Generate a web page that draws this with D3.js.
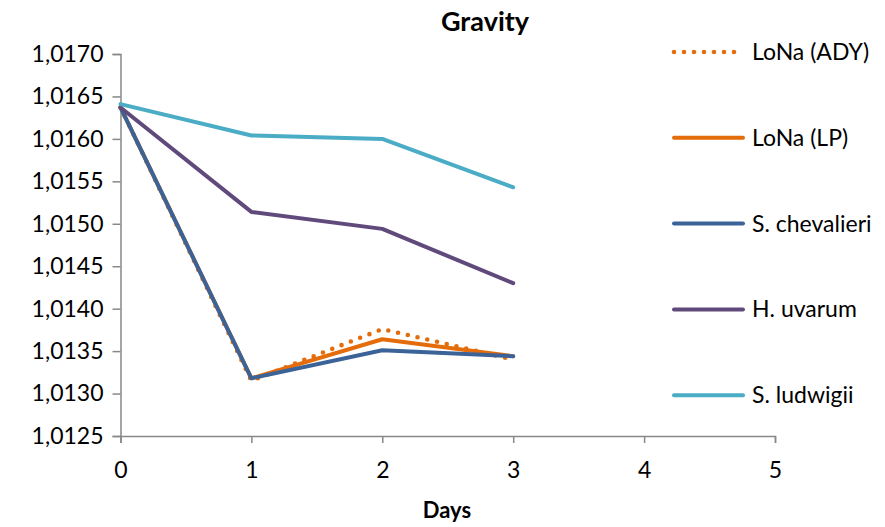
<!DOCTYPE html>
<html>
<head>
<meta charset="utf-8">
<script src="https://cdn.jsdelivr.net/npm/d3@7"></script>
<style>
  body { margin: 0; background: #fff; }
  text { font-family: Lato, "Open Sans", sans-serif; fill: #000; }
</style>
</head>
<body>
<svg id="chart"></svg>
<script>
var days = [0, 1, 2, 3];
var seriesNames = ["LoNa (ADY)", "LoNa (LP)", "S. chevalieri", "H. uvarum", "S. ludwigii"];
var lonaADY = [1.01637, 1.01315, 1.01376, 1.01340];
var lonaLP = [1.01637, 1.01318, 1.01364, 1.01344];
var chevalieri = [1.01637, 1.01318, 1.01351, 1.01344];
var uvarum = [1.01637, 1.01514, 1.01494, 1.01430];
var ludwigii = [1.01641, 1.01604, 1.01600, 1.01543];
var xTicks = [0, 1, 2, 3, 4, 5];
var yTicks = [1.0125, 1.0130, 1.0135, 1.0140, 1.0145, 1.0150, 1.0155, 1.0160, 1.0165, 1.0170];

var colors = ["#E46C0A", "#E46C0A", "#3B6397", "#604A7B", "#4BACC6"];
var dashes = ["0 10", null, null, null, null];
var widths = [4.6, 4, 4, 4, 4];
var allValues = [lonaADY, lonaLP, chevalieri, uvarum, ludwigii];

var W = 885, H = 527;
var margin = {top: 54, right: 110, bottom: 91, left: 120.5},
    width = W - margin.left - margin.right,
    height = H - margin.top - margin.bottom;

var svg = d3.select("#chart").attr("width", W).attr("height", H);
var g = svg.append("g").attr("transform", "translate(" + margin.left + "," + margin.top + ")");

var x = d3.scaleLinear().domain([0, 5]).range([0, width]);
var y = d3.scaleLinear().domain([1.0125, 1.0170]).range([height, 0]);
var fmt = function (d) { return d3.format(".4f")(d).replace(".", ","); };

// y axis
var yAxis = g.append("g")
    .call(d3.axisLeft(y).tickValues(yTicks).tickFormat(fmt).tickSize(8).tickPadding(9));
yAxis.select(".domain").attr("stroke", "#888").attr("stroke-width", 1.5);
yAxis.selectAll(".tick line").attr("stroke", "#888").attr("stroke-width", 1.5);
yAxis.selectAll("text").style("font-size", "23px").attr("fill", "#000");

// x axis
var xAxis = g.append("g")
    .attr("transform", "translate(0," + height + ")")
    .call(d3.axisBottom(x).tickValues(xTicks).tickFormat(d3.format("d")).tickSize(7).tickPadding(19));
xAxis.select(".domain").attr("stroke", "#888").attr("stroke-width", 1.5);
xAxis.selectAll(".tick line").attr("stroke", "#888").attr("stroke-width", 1.5);
xAxis.selectAll("text").style("font-size", "23px").attr("fill", "#000");

// lines
var line = d3.line()
    .x(function (d, i) { return x(days[i]); })
    .y(function (d) { return y(d); });

allValues.forEach(function (vals, i) {
  g.append("path")
    .datum(vals)
    .attr("fill", "none")
    .attr("stroke", colors[i])
    .attr("stroke-width", widths[i])
    .attr("stroke-linejoin", "round")
    .attr("stroke-linecap", "round")
    .attr("stroke-dasharray", dashes[i])
    .attr("d", line);
});

// title & axis label
svg.append("text")
  .attr("x", 485).attr("y", 31)
  .attr("text-anchor", "middle")
  .style("font-size", "27px").style("font-weight", "bold")
  .text("Gravity");
svg.append("text")
  .attr("x", 447).attr("y", 518)
  .attr("text-anchor", "middle")
  .style("font-size", "22px").style("font-weight", "bold")
  .text("Days");

// legend
var legend = svg.append("g").attr("transform", "translate(674,52)");
seriesNames.forEach(function (name, i) {
  var row = legend.append("g").attr("transform", "translate(0," + (i * 85.8) + ")");
  row.append("line")
    .attr("x1", 0).attr("x2", 69).attr("y1", 0).attr("y2", 0)
    .attr("stroke", colors[i]).attr("stroke-width", widths[i])
    .attr("stroke-linecap", "round")
    .attr("stroke-dasharray", dashes[i]);
  row.append("text")
    .attr("x", 78).attr("y", 0)
    .attr("dy", "0.35em")
    .style("font-size", "23px")
    .text(name);
});
</script>
</body>
</html>
